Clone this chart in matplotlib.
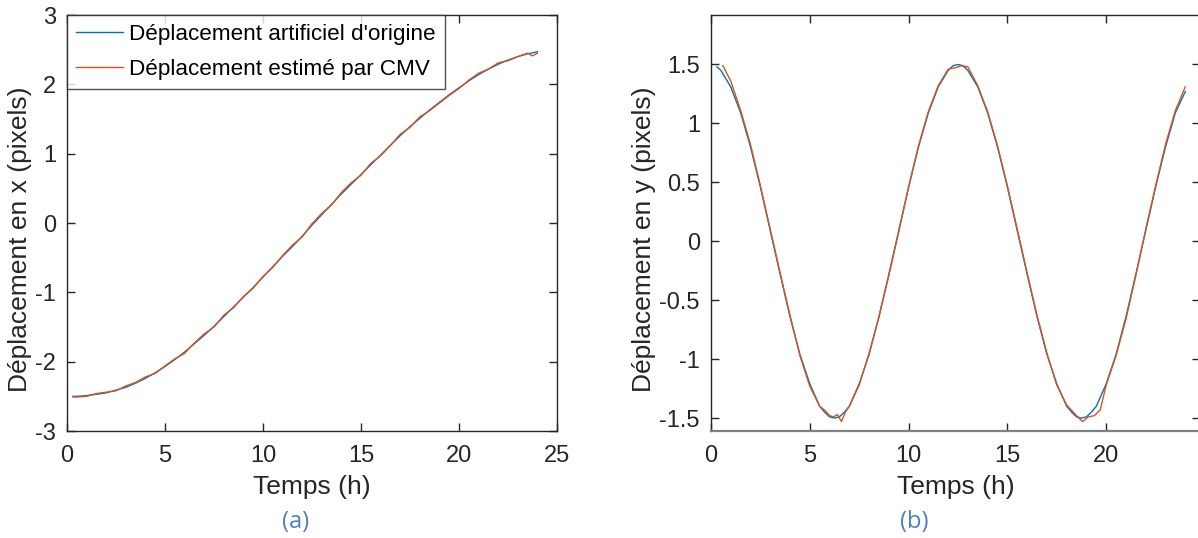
import numpy as np
import matplotlib
matplotlib.use("Agg")
import matplotlib.pyplot as plt

plt.rcParams["font.family"] = ["Liberation Sans", "DejaVu Sans"]
plt.rcParams["axes.unicode_minus"] = False

# ── Panel (a): displacement along x ──
t_x_orig = [0.3, 0.5, 1, 1.5, 2, 2.5, 3, 3.5, 4, 4.5, 5, 5.5, 6, 6.5, 7, 7.5, 8,
            8.5, 9, 9.5, 10, 10.5, 11, 11.5, 12, 12.5, 13, 13.5, 14, 14.5, 15,
            15.5, 16, 16.5, 17, 17.5, 18, 18.5, 19, 19.5, 20, 20.5, 21, 21.5,
            22, 22.5, 23, 23.5, 24]
dx_orig = [-2.50, -2.50, -2.49, -2.47, -2.45, -2.41, -2.37, -2.31, -2.24, -2.16,
           -2.07, -1.97, -1.86, -1.74, -1.62, -1.49, -1.35, -1.21, -1.07, -0.93,
           -0.78, -0.63, -0.48, -0.34, -0.19, -0.03, 0.12, 0.27, 0.42, 0.56,
           0.70, 0.84, 0.98, 1.12, 1.26, 1.39, 1.51, 1.63, 1.74, 1.85, 1.95,
           2.05, 2.14, 2.22, 2.29, 2.35, 2.40, 2.44, 2.47]
t_x_cmv = [0.3, 0.5, 1, 1.5, 2, 2.5, 3, 3.5, 4, 4.5, 5, 5.5, 6, 6.5, 7, 7.5, 8,
           8.5, 9, 9.5, 10, 10.5, 11, 11.5, 12, 12.5, 13, 13.5, 14, 14.5, 15,
           15.5, 16, 16.5, 17, 17.5, 18, 18.5, 19, 19.5, 20, 20.5, 21, 21.5,
           22, 22.5, 23, 23.5, 23.75, 24]
dx_cmv = [-2.51, -2.51, -2.50, -2.46, -2.44, -2.42, -2.35, -2.30, -2.22, -2.17,
          -2.06, -1.96, -1.88, -1.73, -1.60, -1.50, -1.33, -1.22, -1.06, -0.94,
          -0.77, -0.64, -0.47, -0.32, -0.20, -0.01, 0.14, 0.26, 0.44, 0.58,
          0.69, 0.86, 0.97, 1.12, 1.28, 1.38, 1.53, 1.62, 1.73, 1.84, 1.94,
          2.06, 2.16, 2.22, 2.31, 2.34, 2.40, 2.45, 2.41, 2.45]

# ── Panel (b): displacement along y ──
t_y_orig = [0.3, 0.5, 1, 1.5, 2, 2.5, 3, 3.5, 4, 4.5, 5, 5.5, 5.75, 6, 6.25,
            6.5, 6.75, 7, 7.5, 8, 8.5, 9, 9.5, 10, 10.5, 11, 11.5, 12, 12.25,
            12.5, 12.75, 13, 13.5, 14, 14.5, 15, 15.5, 16, 16.5, 17, 17.5, 18,
            18.25, 18.5, 18.75, 19, 19.25, 19.5, 20, 20.5, 21, 21.5, 22, 22.5,
            23, 23.5, 24]
dy_orig = [1.48, 1.45, 1.31, 1.09, 0.80, 0.46, 0.09, -0.28, -0.64, -0.96,
           -1.21, -1.40, -1.45, -1.49, -1.50, -1.49, -1.45, -1.40, -1.21, -0.96,
           -0.64, -0.28, 0.09, 0.46, 0.80, 1.09, 1.31, 1.45, 1.49, 1.50, 1.49,
           1.45, 1.31, 1.09, 0.80, 0.46, 0.09, -0.28, -0.64, -0.96, -1.21,
           -1.40, -1.45, -1.49, -1.50, -1.49, -1.45, -1.40, -1.21, -0.96, -0.64,
           -0.28, 0.09, 0.46, 0.80, 1.09, 1.27]
t_y_cmv = [0.6, 1, 1.5, 2, 2.5, 3, 3.5, 4, 4.5, 5, 5.5, 5.8, 6, 6.2, 6.4, 6.6,
           6.8, 7, 7.5, 8, 8.5, 9, 9.5, 10, 10.5, 11, 11.5, 12, 12.3, 12.7, 13,
           13.5, 14, 14.5, 15, 15.5, 16, 16.5, 17, 17.5, 18, 18.5, 18.8, 19.1,
           19.4, 19.7, 20, 20.5, 21, 21.5, 22, 22.5, 23, 23.5, 24]
dy_cmv = [1.49, 1.36, 1.11, 0.82, 0.47, 0.10, -0.27, -0.63, -0.97, -1.23,
          -1.40, -1.44, -1.48, -1.49, -1.47, -1.53, -1.45, -1.40, -1.22, -0.95,
          -0.64, -0.29, 0.08, 0.46, 0.81, 1.10, 1.32, 1.46, 1.47, 1.49, 1.48,
          1.32, 1.10, 0.81, 0.47, 0.10, -0.27, -0.63, -0.95, -1.22, -1.39,
          -1.48, -1.53, -1.49, -1.48, -1.43, -1.22, -0.97, -0.66, -0.29, 0.10,
          0.47, 0.82, 1.11, 1.31]

BLUE = "#0072BD"
ORANGE = "#D95319"
TXT = "#262626"
CAPTION = "#4f81bd"

W, H = 1198, 538
fig = plt.figure(figsize=(W / 100, H / 100), dpi=100)


def px_axes(x0, y0, x1, y1):
    return fig.add_axes([x0 / W, (H - y1) / H, (x1 - x0) / W, (y1 - y0) / H])


def style(ax):
    ax.tick_params(direction="in", length=6, width=1, top=True, right=True,
                   labelsize=17, colors=TXT)
    ax.tick_params(axis="x", pad=10)
    ax.tick_params(axis="y", pad=8)
    for s in ax.spines.values():
        s.set_color(TXT)
        s.set_linewidth(1)


ax1 = px_axes(67, 15, 557, 431)
ax1.plot(t_x_orig, dx_orig, color=BLUE, lw=1, label="Déplacement artificiel d'origine")
ax1.plot(t_x_cmv, dx_cmv, color=ORANGE, lw=1, label="Déplacement estimé par CMV")
ax1.set_xlim(0, 25)
ax1.set_ylim(-3, 3)
ax1.set_xticks([0, 5, 10, 15, 20, 25])
ax1.set_yticks([-3, -2, -1, 0, 1, 2, 3])
style(ax1)
ax1.set_xlabel("Temps (h)", fontsize=19, color=TXT, labelpad=6)
ax1.set_ylabel("Déplacement en x (pixels)", fontsize=19, color=TXT)
ax1.yaxis.set_label_coords((32 - 67) / 490, 0.46)
leg = ax1.legend(loc="upper left", fontsize=16.2, frameon=True, fancybox=False,
                 borderaxespad=0, handlelength=2.1, borderpad=0.4,
                 labelspacing=0.6, handletextpad=0.25)
leg.get_frame().set_edgecolor(TXT)
leg.get_frame().set_linewidth(1)
for txt in leg.get_texts():
    txt.set_color("black")

ax2 = px_axes(711, 15, 1200, 431)
ax2.plot(t_y_orig, dy_orig, color=BLUE, lw=1)
ax2.plot(t_y_cmv, dy_cmv, color=ORANGE, lw=1)
ax2.set_xlim(0, (1200 - 711) / 19.76)
ax2.set_ylim(-1.61, 1.92)
ax2.set_xticks([0, 5, 10, 15, 20])
ax2.set_yticks([-1.5, -1, -0.5, 0, 0.5, 1, 1.5])
ax2.set_yticklabels(["-1.5", "-1", "-0.5", "0", "0.5", "1", "1.5"])
style(ax2)
ax2.spines["bottom"].set_color("#808080")
ax2.spines["bottom"].set_linewidth(1.6)
ax2.set_xlabel("Temps (h)", fontsize=19, color=TXT, labelpad=6)
ax2.set_ylabel("Déplacement en y (pixels)", fontsize=19, color=TXT)
ax2.yaxis.set_label_coords((656 - 711) / 489, 0.46)

fig.text(296 / W, 1 - 522 / H, "(a)", ha="center", va="center",
         fontsize=17, color=CAPTION, family=["Open Sans", "DejaVu Sans"])
fig.text(914 / W, 1 - 522 / H, "(b)", ha="center", va="center",
         fontsize=17, color=CAPTION, family=["Open Sans", "DejaVu Sans"])

fig.savefig("out.png", dpi=100)
